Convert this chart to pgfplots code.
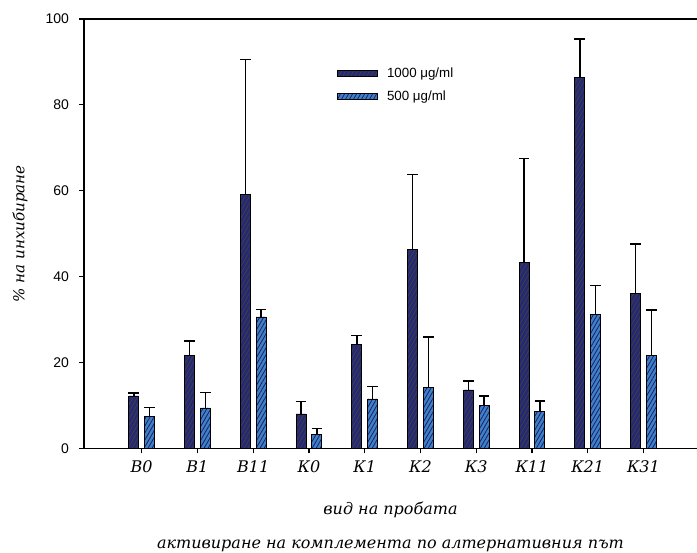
\documentclass[border=0pt]{standalone}
\usepackage{fontspec}
\setmainfont{Liberation Serif}
\newfontfamily\sans{Liberation Sans}
\newfontfamily\lab{DejaVu Serif}
\usepackage{pgfplots}
\pgfplotsset{compat=1.18}
\usetikzlibrary{patterns.meta}
\definecolor{dk}{RGB}{36,40,118}
\definecolor{lt}{RGB}{62,128,202}

\pgfplotstableread{
x y e
0 12.2 0.7
1 21.7 3.3
2 59.2 31.4
3 8.0 2.9
4 24.3 2.0
5 46.4 17.4
6 13.6 2.1
7 43.3 24.2
8 86.4 8.9
9 36.1 11.5
}\tdark
\pgfplotstableread{
x y e
0 7.4 2.1
1 9.4 3.6
2 30.6 1.7
3 3.3 1.3
4 11.5 2.9
5 14.1 11.8
6 9.9 2.3
7 8.5 2.5
8 31.1 6.8
9 21.7 10.5
}\tlight

\begin{document}
\begin{tikzpicture}
\begin{axis}[name=ax, at={(0,0)}, anchor=south west,
  scale only axis, width=459.75pt, height=322pt,
  xmin=-1.035, xmax=9.96, ymin=0, ymax=100,
  clip=false,
  axis x line*=box, axis y line*=left,
  axis line style={line width=0.9pt, black},
  xtick={0,...,9},
  xticklabels={В0,В1,В11,К0,К1,К2,К3,К11,К21,К31},
  xtick pos=left,
  ytick={0,20,...,100},
  tick align=outside,
  major tick length=3.75pt,
  tick style={black, line width=0.9pt},
  /pgf/number format/assume math mode=true,
  yticklabel style={font=\sans\fontsize{10.5}{12}\selectfont, xshift=-4pt},
  xticklabel style={font=\lab\itshape\fontsize{12}{14}\selectfont, yshift=-2pt},
  ylabel={\% на инхибиране},
  ylabel style={at={(axis description cs:-0.1044,0.5)}, anchor=center, font=\lab\itshape\fontsize{11.3}{13}\selectfont},
  ybar, bar width=0.18,
  legend image code/.code={\draw[#1] (0pt,-2.25pt) rectangle (30pt,2.25pt);},
  legend style={draw=none, fill=none, at={(axis description cs:0.4127,0.846)}, anchor=west,
    inner sep=0pt, row sep=8pt, font=\sans\fontsize{10}{12}\selectfont,
    nodes={inner sep=0pt, text height=7.5pt, text depth=2pt},
    column sep=6.75pt},
  legend cell align=left,
]
\addplot[fill=dk, draw=black, line width=0.6pt, bar shift=-0.142,
  postaction={pattern={Lines[angle=60,distance=2.6pt,line width=0.6pt]}, pattern color=black!75},
  error bars/.cd, y dir=plus, y explicit,
  error bar style={black, line width=1.1pt},
  error mark options={rotate=90, mark size=4pt, line width=1.1pt, black}]
  table[x=x, y=y, y error=e] {\tdark};
\addlegendentry{1000 μg/ml}
\addplot[fill=lt, draw=black, line width=0.6pt, bar shift=0.142,
  postaction={pattern={Lines[angle=60,distance=2.6pt,line width=0.6pt]}, pattern color=dk!80!black},
  error bars/.cd, y dir=plus, y explicit,
  error bar style={black, line width=1.1pt},
  error mark options={rotate=90, mark size=4pt, line width=1.1pt, black}]
  table[x=x, y=y, y error=e] {\tlight};
\addlegendentry{500 μg/ml}
\node[font=\lab\itshape\fontsize{12}{14}\selectfont] at (axis description cs:0.5,-0.1437) {вид на пробата};
\node[font=\lab\itshape\fontsize{12}{14}\selectfont] at (axis description cs:0.5,-0.2276) {активиране на комплемента по алтернативния път};
\end{axis}
\pgfresetboundingbox
\path (-63pt,-77.8pt) rectangle (459.75pt,336.25pt);
\end{tikzpicture}
\end{document}
